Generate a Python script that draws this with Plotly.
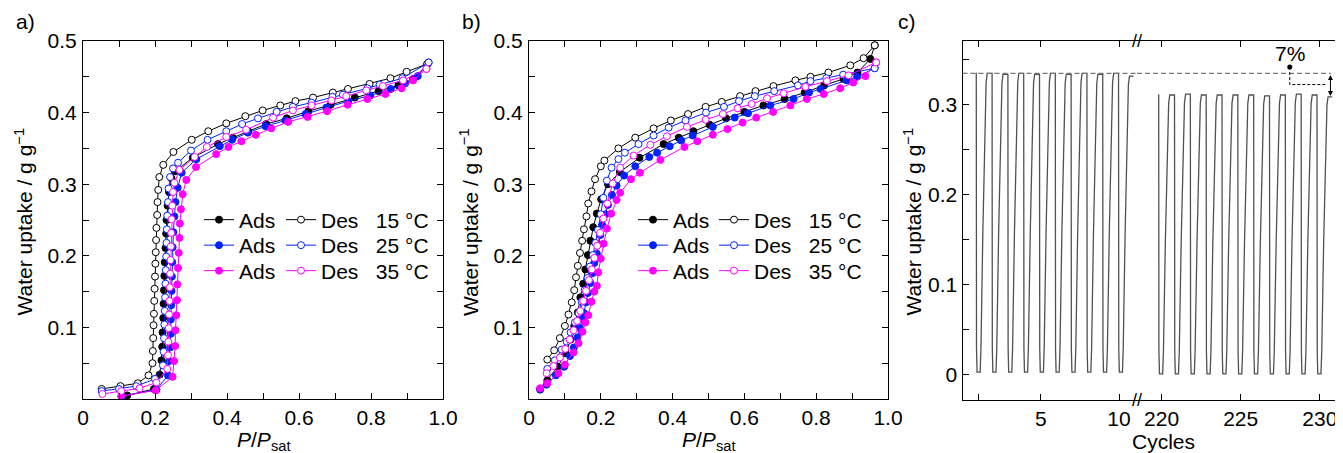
import plotly.graph_objects as go

# ---------------- a) isotherms ----------------
a_ads15_x = [0.123, 0.197, 0.213, 0.218, 0.220, 0.221, 0.223, 0.224, 0.225, 0.226, 0.227, 0.229, 0.231, 0.232, 0.235, 0.239,
             0.246, 0.256, 0.305, 0.375, 0.416, 0.459, 0.509, 0.566, 0.626, 0.688, 0.755, 0.821, 0.876, 0.917, 0.956]
a_ads15_y = [0.005, 0.014, 0.034, 0.054, 0.073, 0.093, 0.113, 0.133, 0.152, 0.172, 0.191, 0.211, 0.231, 0.250, 0.270, 0.289,
             0.308, 0.318, 0.337, 0.356, 0.365, 0.374, 0.384, 0.392, 0.402, 0.411, 0.421, 0.430, 0.438, 0.447, 0.467]
a_des15_x = [0.052, 0.104, 0.152, 0.182, 0.193, 0.194, 0.195, 0.196, 0.197, 0.198, 0.199, 0.200, 0.201, 0.202, 0.203, 0.204,
             0.206, 0.207, 0.209, 0.212, 0.223, 0.251, 0.302, 0.348, 0.398, 0.451, 0.499, 0.548, 0.590, 0.639, 0.694, 0.736,
             0.796, 0.854, 0.899, 0.956]
a_des15_y = [0.014, 0.018, 0.022, 0.033, 0.050, 0.067, 0.085, 0.103, 0.119, 0.137, 0.154, 0.171, 0.189, 0.205, 0.222, 0.239,
             0.257, 0.275, 0.292, 0.310, 0.327, 0.345, 0.362, 0.374, 0.385, 0.395, 0.403, 0.410, 0.416, 0.421, 0.428, 0.433,
             0.440, 0.448, 0.457, 0.468]
a_ads25_x = [0.108, 0.204, 0.236, 0.239, 0.242, 0.244, 0.244, 0.245, 0.246, 0.247, 0.248, 0.249, 0.251, 0.254, 0.257, 0.263,
             0.274, 0.315, 0.380, 0.414, 0.458, 0.507, 0.562, 0.618, 0.676, 0.737, 0.798, 0.855, 0.895, 0.930, 0.960]
a_ads25_y = [0.004, 0.013, 0.033, 0.053, 0.072, 0.091, 0.111, 0.131, 0.151, 0.171, 0.191, 0.212, 0.233, 0.255, 0.275, 0.295,
             0.316, 0.335, 0.353, 0.362, 0.372, 0.381, 0.389, 0.398, 0.407, 0.416, 0.424, 0.433, 0.441, 0.451, 0.470]
a_des25_x = [0.052, 0.100, 0.148, 0.200, 0.222, 0.224, 0.225, 0.226, 0.227, 0.228, 0.229, 0.230, 0.231, 0.232, 0.233, 0.234,
             0.236, 0.238, 0.242, 0.250, 0.264, 0.300, 0.346, 0.398, 0.442, 0.486, 0.538, 0.583, 0.635, 0.693, 0.722, 0.790,
             0.824, 0.887, 0.960]
a_des25_y = [0.011, 0.014, 0.018, 0.028, 0.047, 0.066, 0.085, 0.104, 0.123, 0.142, 0.161, 0.180, 0.199, 0.218, 0.237, 0.256,
             0.275, 0.294, 0.310, 0.322, 0.330, 0.347, 0.362, 0.374, 0.384, 0.392, 0.401, 0.408, 0.414, 0.422, 0.425, 0.434,
             0.439, 0.448, 0.470]
a_ads35_x = [0.106, 0.202, 0.249, 0.253, 0.256, 0.257, 0.259, 0.261, 0.262, 0.264, 0.266, 0.268, 0.269, 0.272, 0.277, 0.287,
             0.314, 0.370, 0.404, 0.440, 0.480, 0.523, 0.570, 0.624, 0.678, 0.735, 0.790, 0.840, 0.885, 0.917, 0.954]
a_ads35_y = [0.004, 0.012, 0.031, 0.053, 0.074, 0.096, 0.117, 0.138, 0.160, 0.183, 0.204, 0.225, 0.245, 0.265, 0.286, 0.306,
             0.324, 0.342, 0.352, 0.360, 0.369, 0.378, 0.387, 0.394, 0.402, 0.411, 0.419, 0.426, 0.434, 0.445, 0.461]
a_des35_x = [0.054, 0.106, 0.157, 0.204, 0.234, 0.236, 0.237, 0.238, 0.239, 0.240, 0.241, 0.242, 0.243, 0.244, 0.245, 0.246,
             0.248, 0.250, 0.254, 0.268, 0.310, 0.344, 0.398, 0.453, 0.528, 0.583, 0.635, 0.690, 0.731, 0.787, 0.833, 0.889,
             0.954]
a_des35_y = [0.007, 0.011, 0.015, 0.023, 0.042, 0.061, 0.080, 0.099, 0.118, 0.137, 0.156, 0.175, 0.194, 0.213, 0.232, 0.251,
             0.270, 0.289, 0.302, 0.320, 0.338, 0.352, 0.366, 0.376, 0.393, 0.403, 0.410, 0.417, 0.423, 0.431, 0.437, 0.445,
             0.461]

# ---------------- b) isotherms ----------------
b_ads15_x = [0.031, 0.051, 0.080, 0.102, 0.116, 0.126, 0.136, 0.143, 0.151, 0.157, 0.164, 0.171, 0.179, 0.189, 0.201, 0.220,
             0.253, 0.308, 0.375, 0.417, 0.458, 0.503, 0.549, 0.600, 0.653, 0.712, 0.768, 0.822, 0.876, 0.915, 0.951, 0.963]
b_ads15_y = [0.014, 0.026, 0.045, 0.064, 0.083, 0.102, 0.121, 0.142, 0.161, 0.181, 0.201, 0.221, 0.240, 0.259, 0.279, 0.300,
             0.317, 0.337, 0.356, 0.365, 0.374, 0.383, 0.392, 0.401, 0.410, 0.419, 0.428, 0.438, 0.447, 0.456, 0.475, 0.494]
b_des15_x = [0.051, 0.070, 0.086, 0.100, 0.110, 0.119, 0.126, 0.131, 0.136, 0.142, 0.148, 0.153, 0.160, 0.165, 0.174, 0.184,
             0.200, 0.210, 0.249, 0.296, 0.347, 0.395, 0.443, 0.492, 0.537, 0.588, 0.631, 0.681, 0.742, 0.784, 0.834, 0.895,
             0.932, 0.963]
b_des15_y = [0.055, 0.068, 0.085, 0.102, 0.118, 0.135, 0.152, 0.170, 0.186, 0.204, 0.221, 0.237, 0.255, 0.273, 0.290, 0.307,
             0.325, 0.333, 0.350, 0.365, 0.378, 0.389, 0.398, 0.408, 0.415, 0.423, 0.430, 0.437, 0.445, 0.450, 0.456, 0.466,
             0.476, 0.494]
b_ads25_x = [0.031, 0.049, 0.075, 0.098, 0.114, 0.125, 0.135, 0.142, 0.148, 0.153, 0.159, 0.164, 0.171, 0.178, 0.182, 0.189,
             0.194, 0.199, 0.204, 0.213, 0.220, 0.231, 0.244, 0.265, 0.296, 0.335, 0.357, 0.392, 0.424, 0.456, 0.512, 0.573,
             0.610, 0.672, 0.737, 0.780, 0.812, 0.885, 0.914, 0.963]
b_ads25_y = [0.013, 0.020, 0.033, 0.045, 0.060, 0.072, 0.086, 0.099, 0.111, 0.120, 0.135, 0.148, 0.162, 0.176, 0.190, 0.203,
             0.216, 0.229, 0.243, 0.258, 0.271, 0.285, 0.298, 0.312, 0.325, 0.338, 0.344, 0.353, 0.361, 0.368, 0.380, 0.393,
             0.399, 0.410, 0.419, 0.428, 0.433, 0.445, 0.450, 0.462]
b_des25_x = [0.051, 0.072, 0.091, 0.105, 0.116, 0.128, 0.138, 0.147, 0.155, 0.163, 0.170, 0.178, 0.185, 0.192, 0.200, 0.207,
             0.217, 0.230, 0.249, 0.267, 0.305, 0.347, 0.389, 0.436, 0.493, 0.543, 0.585, 0.629, 0.683, 0.749, 0.784, 0.828,
             0.875, 0.963]
b_des25_y = [0.042, 0.054, 0.069, 0.080, 0.093, 0.107, 0.120, 0.136, 0.152, 0.169, 0.185, 0.201, 0.218, 0.236, 0.258, 0.281,
             0.305, 0.323, 0.335, 0.344, 0.356, 0.368, 0.379, 0.389, 0.400, 0.408, 0.416, 0.423, 0.430, 0.438, 0.444, 0.448,
             0.453, 0.462]
b_ads35_x = [0.031, 0.051, 0.082, 0.100, 0.124, 0.138, 0.149, 0.157, 0.165, 0.174, 0.182, 0.189, 0.193, 0.200, 0.208, 0.217,
             0.229, 0.244, 0.254, 0.284, 0.309, 0.366, 0.433, 0.469, 0.512, 0.553, 0.595, 0.633, 0.680, 0.728, 0.774, 0.821,
             0.867, 0.903, 0.937, 0.967]
b_ads35_y = [0.015, 0.022, 0.036, 0.048, 0.065, 0.078, 0.094, 0.107, 0.117, 0.136, 0.150, 0.158, 0.177, 0.196, 0.217, 0.238,
             0.259, 0.278, 0.288, 0.307, 0.316, 0.334, 0.352, 0.360, 0.369, 0.377, 0.386, 0.393, 0.401, 0.410, 0.419, 0.426,
             0.434, 0.442, 0.451, 0.470]
b_des35_x = [0.049, 0.068, 0.086, 0.101, 0.113, 0.124, 0.134, 0.143, 0.151, 0.159, 0.167, 0.175, 0.182, 0.190, 0.198, 0.207,
             0.218, 0.233, 0.254, 0.291, 0.338, 0.384, 0.440, 0.492, 0.540, 0.581, 0.620, 0.663, 0.709, 0.770, 0.830, 0.890,
             0.967]
b_des35_y = [0.036, 0.046, 0.058, 0.070, 0.083, 0.096, 0.109, 0.123, 0.137, 0.151, 0.166, 0.181, 0.197, 0.214, 0.232, 0.252,
             0.273, 0.301, 0.323, 0.340, 0.355, 0.367, 0.380, 0.390, 0.398, 0.406, 0.412, 0.420, 0.427, 0.436, 0.444, 0.452,
             0.470]

# ---------------- c) cycling ----------------
# cycle positions where uptake drops, plateau tops (before first drop, after each rise) and bottoms
c_left_drop = [0.88, 1.89, 2.90, 3.91, 4.92, 5.93, 6.94, 7.95, 8.96, 9.97]
c_left_top = [0.335, 0.335, 0.334, 0.335, 0.334, 0.335, 0.334, 0.335, 0.334, 0.335, 0.332]
c_left_bottom = [0.003, 0.003, 0.003, 0.003, 0.003, 0.003, 0.003, 0.003, 0.003, 0.003]
c_right_drop = [219.82, 220.82, 221.82, 222.82, 223.82, 224.82, 225.82, 226.82, 227.82, 228.82, 229.82]
c_right_top = [0.311, 0.311, 0.312, 0.311, 0.311, 0.311, 0.311, 0.310, 0.311, 0.312, 0.311, 0.309]
c_right_bottom = [0.001, 0.001, 0.001, 0.001, 0.001, 0.001, 0.001, 0.001, 0.001, 0.001, 0.001]
# shape of one cycle: offset after the drop, and level (0 = bottom, 1 = top)
cyc_dt = [0.00, 0.015, 0.05, 0.25, 0.30, 0.42, 0.55, 0.63, 0.70]
cyc_lv = [1.00, 0.08, 0.00, 0.00, 0.08, 0.47, 0.84, 0.97, 1.00]
c_ref_level = 0.335
c_loss_top = 0.310

# the page body keeps its 8 px default margin, so the figure is drawn 8 px smaller
OFF = 8
W, H = 1343 - OFF, 453 - OFF
FONT = "Liberation Sans, Arial, sans-serif"
FS = 21


def px(v):
    return (v - OFF) / W


def py(v):
    return 1 - (v - OFF) / H


def cycle_trace(drops, tops, bottoms):
    xs, ys = [drops[0] - 0.03], [tops[0]]
    for i, d in enumerate(drops):
        for dt, lv in zip(cyc_dt, cyc_lv):
            top = tops[i] if dt == 0 else tops[i + 1]
            xs.append(d + dt)
            ys.append(bottoms[i] + lv * (top - bottoms[i]))
    xs.append(drops[-1] + 0.96)
    ys.append(tops[-1])
    return xs, ys


fig = go.Figure()

BLUE, MAG = "#0022ff", "#ff00ff"
# one legend per row so that rows sit where the reference puts them
iso = [
    ("x", "y", 1, [(a_ads15_x, a_ads15_y, "black", "15"), (a_ads25_x, a_ads25_y, BLUE, "25"),
                   (a_ads35_x, a_ads35_y, MAG, "35")],
     [(a_des15_x, a_des15_y, "black", "15"), (a_des25_x, a_des25_y, BLUE, "25"),
      (a_des35_x, a_des35_y, MAG, "35")]),
    ("x2", "y2", 7, [(b_ads15_x, b_ads15_y, "black", "15"), (b_ads25_x, b_ads25_y, BLUE, "25"),
                     (b_ads35_x, b_ads35_y, MAG, "35")],
     [(b_des15_x, b_des15_y, "black", "15"), (b_des25_x, b_des25_y, BLUE, "25"),
      (b_des35_x, b_des35_y, MAG, "35")]),
]


def lg_name(n):
    return "legend" if n == 1 else "legend%d" % n


for xa, ya, l0, ads, des in iso:
    for k, (xs, ys, col, t) in enumerate(ads):
        fig.add_trace(go.Scatter(x=xs, y=ys, xaxis=xa, yaxis=ya, mode="lines+markers", name="Ads",
                                 legend=lg_name(l0 + k), line=dict(color=col, width=1),
                                 marker=dict(size=7, color=col, line=dict(color=col, width=1))))
    for k, (xs, ys, col, t) in enumerate(des):
        fig.add_trace(go.Scatter(x=xs, y=ys, xaxis=xa, yaxis=ya, mode="lines+markers",
                                 name="Des\u00a0\u00a0\u00a0" + t + " \u00b0C",
                                 legend=lg_name(l0 + 3 + k), line=dict(color=col, width=1),
                                 marker=dict(size=7, color="white", line=dict(color=col, width=1))))

# cycling curves
lx, ly = cycle_trace(c_left_drop, c_left_top, c_left_bottom)
rx, ry = cycle_trace(c_right_drop, c_right_top, c_right_bottom)
for xs, ys, xa, ya in [(lx, ly, "x3", "y3"), (rx, ry, "x4", "y4")]:
    fig.add_trace(go.Scatter(x=xs, y=ys, xaxis=xa, yaxis=ya, mode="lines", showlegend=False,
                             line=dict(color="#505050", width=1.3)))

# dashed reference level of the first cycles
c_left_range = [0, 11.15]
c_right_range = [218.45, 231.4]
fig.add_trace(go.Scatter(x=[c_left_range[0], c_left_range[1]], y=[c_ref_level, c_ref_level], xaxis="x3", yaxis="y3",
                         mode="lines", showlegend=False, line=dict(color="#777777", width=1.2, dash="5px,3px")))
fig.add_trace(go.Scatter(x=[c_right_range[0], 230.7], y=[c_ref_level, c_ref_level], xaxis="x4", yaxis="y4",
                         mode="lines", showlegend=False, line=dict(color="#777777", width=1.2, dash="5px,3px")))

# 7 % callout
lab_x, lab_y, bend_y, end_x = 228.1, 0.342, 0.3226, 230.4
fig.add_trace(go.Scatter(x=[lab_x, lab_x, end_x], y=[lab_y, bend_y, bend_y], xaxis="x4", yaxis="y4",
                         mode="lines", showlegend=False, line=dict(color="black", width=1, dash="3px,2px")))
fig.add_trace(go.Scatter(x=[lab_x], y=[lab_y], xaxis="x4", yaxis="y4", mode="markers", showlegend=False,
                         marker=dict(size=5, color="black")))

axis_common = dict(showline=True, linecolor="black", linewidth=1.2, mirror="ticks", ticks="inside", ticklen=6,
                   tickcolor="black", tickwidth=1, showgrid=False, zeroline=False,
                   tickfont=dict(family=FONT, size=FS, color="black"))

y_dom = [py(399), py(41)]
yc_dom = [py(400), py(41)]

iso_x = dict(axis_common, range=[0, 1.0], tickmode="array", tickvals=[0, 0.2, 0.4, 0.6, 0.8, 1.0],
             ticktext=["0", "0.2", "0.4", "0.6", "0.8", "1.0"], ticklabelstandoff=0,
             minor=dict(tickmode="linear", tick0=0, dtick=0.1, ticks="inside", ticklen=6, tickcolor="black"))
iso_y = dict(axis_common, range=[0, 0.5], tickmode="array", tickvals=[0.1, 0.2, 0.3, 0.4, 0.5],
             ticktext=["0.1", "0.2", "0.3", "0.4", "0.5"], ticklabelstandoff=1,
             minor=dict(tickmode="linear", tick0=0, dtick=0.05, ticks="inside", ticklen=6, tickcolor="black"))
cyc_y = dict(axis_common, range=[-0.028, 0.371], tickmode="array", tickvals=[0, 0.1, 0.2, 0.3],
             ticktext=["0", "0.1", "0.2", "0.3"], ticklabelstandoff=0,
             minor=dict(tickmode="linear", tick0=0, dtick=0.05, ticks="inside", ticklen=6, tickcolor="black"))

leg = dict(xanchor="left", yanchor="middle", bgcolor="rgba(0,0,0,0)", borderwidth=0,
           font=dict(family=FONT, size=FS, color="black"), tracegroupgap=0)

fig.update_layout(
    width=W, height=H, margin=dict(l=0, r=0, t=0, b=0, autoexpand=False),
    paper_bgcolor="white", plot_bgcolor="white",
    font=dict(family=FONT, size=FS, color="black"),
    xaxis=dict(iso_x, domain=[px(83), px(443)], anchor="y"),
    yaxis=dict(iso_y, domain=y_dom, anchor="x"),
    xaxis2=dict(iso_x, domain=[px(529), px(888)], anchor="y2"),
    yaxis2=dict(iso_y, domain=y_dom, anchor="x2"),
    xaxis3=dict(axis_common, domain=[px(962.5), px(1137)], anchor="y3", range=c_left_range,
                tickmode="array", tickvals=[1, 5, 10], ticktext=["", "5", "10"], ticklabelstandoff=0),
    yaxis3=dict(cyc_y, domain=yc_dom, anchor="x3", mirror=False),
    xaxis4=dict(axis_common, domain=[px(1137), px(1342)], anchor="y4", range=c_right_range,
                tickmode="array", tickvals=[220, 225, 230], ticktext=["220", "225", "230"], ticklabelstandoff=0),
    yaxis4=dict(cyc_y, domain=yc_dom, anchor="x4", side="right", mirror=False, showticklabels=False,
                matches="y3"),
)

# legend rows: (first legend index, Ads column x, Des column x)
rows_y = [220, 245.5, 271]
for l0, xa_, xd_ in [(1, 199, 281), (7, 633, 714)]:
    for k, ry_ in enumerate(rows_y):
        fig.update_layout({lg_name(l0 + k): dict(leg, x=px(xa_), y=py(ry_)),
                           lg_name(l0 + 3 + k): dict(leg, x=px(xd_), y=py(ry_))})

ann = []
ytitle = "Water uptake / g g<sup>\u22121</sup>"
for xc in [23.5, 469, 912.5]:
    ann.append(dict(x=px(xc), y=py(222), xref="paper", yref="paper", text=ytitle, textangle=-90,
                    showarrow=False, xanchor="center", yanchor="middle", font=dict(family=FONT, size=FS)))
xtitle = "<i>P</i>/<i>P</i><sub>sat</sub>"
for xc in [263, 708.5]:
    ann.append(dict(x=px(xc), y=py(441), xref="paper", yref="paper", text=xtitle, showarrow=False,
                    xanchor="center", yanchor="middle", font=dict(family=FONT, size=FS)))
ann.append(dict(x=px(1163), y=py(441), xref="paper", yref="paper", text="Cycles", showarrow=False,
                xanchor="center", yanchor="middle", font=dict(family=FONT, size=FS)))
for lab, xc in [("a)", 25), ("b)", 471), ("c)", 907)]:
    ann.append(dict(x=px(xc), y=py(22), xref="paper", yref="paper", text=lab, showarrow=False,
                    xanchor="center", yanchor="middle", font=dict(family=FONT, size=FS)))
# axis break marks
for yy in [41, 400]:
    ann.append(dict(x=px(1137), y=py(yy), xref="paper", yref="paper", text="//", showarrow=False,
                    xanchor="center", yanchor="middle", font=dict(family=FONT, size=18, color="black")))
# 7 % label and double arrow
ann.append(dict(x=lab_x, y=0.357, xref="x4", yref="y4", text="7%", showarrow=False,
                font=dict(family=FONT, size=FS)))
ann.append(dict(x=230.67, y=c_loss_top, ax=230.67, ay=c_ref_level, xref="x4", yref="y4", axref="x4", ayref="y4",
                text="", showarrow=True, arrowhead=2, startarrowhead=2, arrowside="end+start",
                arrowsize=1, arrowwidth=1, arrowcolor="black"))
fig.update_layout(annotations=ann)

fig.write_html("out.html")
